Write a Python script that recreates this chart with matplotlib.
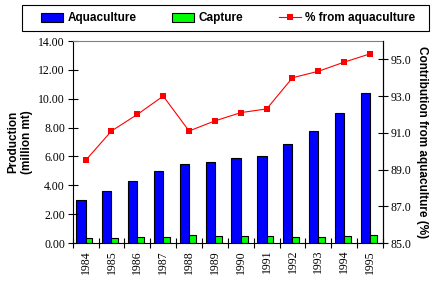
import matplotlib.pyplot as plt
from matplotlib.patches import Rectangle
import numpy as np

years = ['1984', '1985', '1986', '1987', '1988', '1989',
         '1990', '1991', '1992', '1993', '1994', '1995']
aquaculture = [2.97, 3.59, 4.28, 4.97, 5.45, 5.59, 5.88, 6.00, 6.83, 7.74, 9.03, 10.41]
capture = [0.34, 0.34, 0.41, 0.41, 0.55, 0.48, 0.48, 0.48, 0.41, 0.41, 0.48, 0.55]
pct_aqua = [89.5, 91.1, 92.0, 93.0, 91.1, 91.65, 92.1, 92.3, 94.0, 94.35, 94.85, 95.3]

W, H = 441, 283
fig = plt.figure(figsize=(W / 100, H / 100), dpi=100)
ax = fig.add_axes([72.7 / W, 1 - 243 / H, (383 - 72.7) / W, (243 - 41) / H])

tickfont = {'family': 'Liberation Serif', 'size': 8.5}
boldfont = {'family': 'Liberation Sans', 'size': 8.5, 'weight': 'bold'}

x = np.arange(len(years))
b1 = ax.bar(x - 0.18, aquaculture, width=0.36, color='#0000ff', edgecolor='black', linewidth=0.8)
b2 = ax.bar(x + 0.13, capture, width=0.26, color='#00ff00', edgecolor='black', linewidth=0.8)
ax.set_xlim(-0.5, len(years) - 0.5)
ax.set_ylim(0, 14)
ax.set_yticks(np.arange(0, 14.01, 2))
ax.set_yticklabels(['%.2f' % v for v in np.arange(0, 14.01, 2)], fontdict=tickfont)
ax.set_xticks(x)
ax.set_xticklabels(years, rotation=90, fontdict=tickfont)
ax.set_xticks(np.arange(-0.5, len(years), 1), minor=True)
ax.tick_params(axis='x', which='major', length=0, pad=5)
ax.tick_params(axis='x', which='minor', direction='inout', length=7, width=0.8)
ax.tick_params(axis='y', direction='inout', length=7, width=0.8, pad=2)
ax.spines['top'].set_color('#808080')
for s in ['left', 'bottom', 'right']:
    ax.spines[s].set_linewidth(0.8)
ax.set_ylabel('Production\n(million mt)', fontdict=boldfont, labelpad=4)

ax2 = ax.twinx()
ln, = ax2.plot(x, pct_aqua, color='red', linewidth=0.8, marker='s', markersize=5,
               markeredgewidth=0, label='% from aquaculture')
ax2.set_ylim(85, 96)
ax2.set_yticks(np.arange(85, 95.1, 2))
ax2.set_yticklabels(['%.1f' % v for v in np.arange(85, 95.1, 2)], fontdict=tickfont)
ax2.tick_params(axis='y', direction='inout', length=7, width=0.8, pad=2)
ax2.set_ylabel('Contribution from aquaculture (%)', fontdict=boldfont, rotation=-90, labelpad=12)
for s in ax2.spines.values():
    s.set_visible(False)
ax2.spines['right'].set_visible(True)
ax2.spines['right'].set_linewidth(0.8)

# legend box drawn separately so its size matches
fig.patches.append(Rectangle((21.7 / W, 1 - 31 / H), (429 - 21.7) / W, (31 - 5.3) / H,
                             transform=fig.transFigure, facecolor='white',
                             edgecolor='black', linewidth=0.8))
leg = fig.legend([b1, b2, ln], ['Aquaculture', 'Capture', '% from aquaculture'],
                 loc='center left', ncol=3, bbox_to_anchor=(41 / W, 1 - 18.5 / H),
                 prop={'family': 'Liberation Sans', 'size': 8.5, 'weight': 'bold'},
                 frameon=False, handlelength=1.9, handletextpad=0.35,
                 columnspacing=3.0, borderpad=0, borderaxespad=0)

fig.savefig('out.png', dpi=100)
